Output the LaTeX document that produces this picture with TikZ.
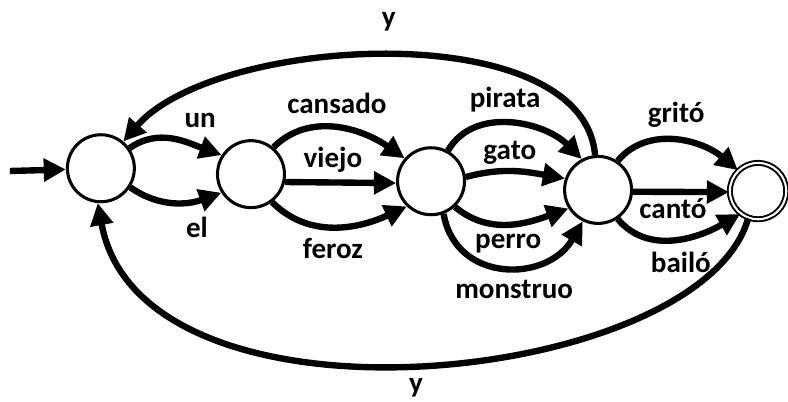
\documentclass[tikz,border=0pt]{standalone}
\usepackage{fontspec}
\setmainfont{Carlito}
\usetikzlibrary{arrows.meta}

\begin{document}
\begin{tikzpicture}[
    state node/.style = {circle, draw, line width=2.2pt, minimum size=1.7cm, inner sep=0pt},
    final node/.style = {circle, draw, double, double distance=1.5pt, line width=1.4pt, minimum size=1.43cm, inner sep=0pt},
    word edge/.style  = {line width=4.6pt, -{Triangle[length=16pt, width=16pt]}},
    word/.style       = {anchor=base, font=\fontsize{21}{25}\selectfont\bfseries}
]

% Marco (proporciones de la imagen)
\useasboundingbox (0,0) rectangle (20,10.18);

% --- ESTADOS ---
\node[state node] (q0) at (2.56, 5.91) {};
\node[state node] (q1) at (6.37, 5.76) {};
\node[state node] (q2) at (10.94, 5.58) {};
\node[state node] (q3) at (15.18, 5.36) {};
\node[final node] (q4) at (19.24, 5.33) {};

% Flecha de entrada
\coordinate (start) at (0.25, 5.84);
\draw[word edge] (start) -- (q0.182);

% --- TRANSICIONES ---
% Determinantes
\draw[word edge] (q0.35) to[out=35, in=160] (q1.147);
\draw[word edge] (q0.-33) to[out=-35, in=200] (q1.212);

% Adjetivos
\draw[word edge] (q1.50) to[out=45, in=145] (q2.139);
\draw[word edge] (q1.-13) -- (q2.183);
\draw[word edge] (q1.-53) to[out=-45, in=205] (q2.226);

% Sustantivos
\draw[word edge] (q2.61) to[out=60, in=135] (q3.118);
\draw[word edge] (q2.7) to[out=15, in=170] (q3.161);
\draw[word edge] (q2.-47) to[out=-40, in=200] (q3.212);
\draw[word edge] (q2.-69) to[out=-80, in=240, looseness=1.3] (q3.244);

% Verbos
\draw[word edge] (q3.56) to[out=50, in=140] (q4.134);
\draw[word edge] (q3.-3) -- (q4.182);
\draw[word edge] (q3.-56) to[out=-50, in=210] (q4.232);

% Conjuncion (vuelta al inicio)
\draw[word edge] (q3.95) .. controls (14.8, 9.8) and (5.5, 9.3) .. (q0.50);
\draw[word edge] (q4.250) .. controls (17.8, 0.4) and (3.6, -1.1) .. (q0.265);

% --- ETIQUETAS ---
\node[word] (l-un) at (5.08, 6.95) {un};
\node[word] (l-el) at (5.0, 4.14) {el};
\node[word] (l-cansado) at (8.55, 7.31) {cansado};
\node[word] (l-viejo) at (8.45, 5.94) {viejo};
\node[word] (l-feroz) at (8.45, 3.63) {feroz};
\node[word] (l-pirata) at (12.82, 7.46) {pirata};
\node[word] (l-gato) at (12.94, 6.12) {gato};
\node[word] (l-perro) at (12.9, 3.88) {perro};
\node[word] (l-monstruo) at (13.05, 2.61) {monstruo};
\node[word] (l-grito) at (17.16, 7.06) {gritó};
\node[word] (l-canto) at (17.08, 4.64) {cantó};
\node[word] (l-bailo) at (17.28, 3.27) {bailó};
\node[word] (l-y-top) at (9.87, 9.52) {y};
\node[word] (l-y-bot) at (10.56, 0.23) {y};

\end{tikzpicture}
\end{document}
